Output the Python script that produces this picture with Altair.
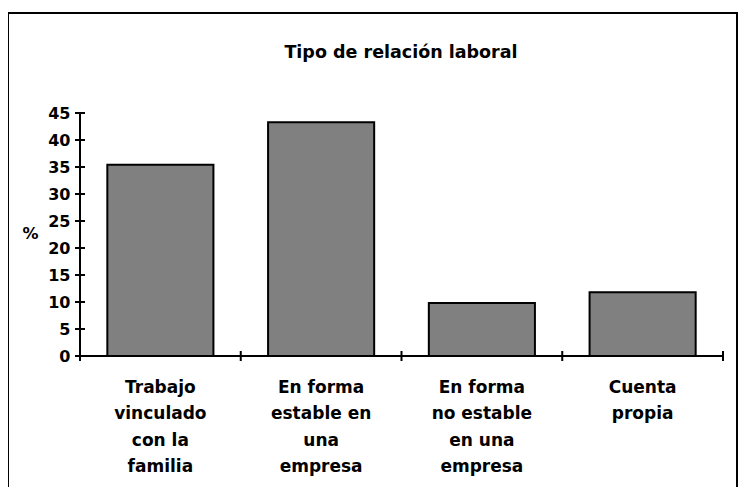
import altair as alt
import pandas as pd

categories = [
    "Trabajo|vinculado|con la|familia",
    "En forma|estable en|una|empresa",
    "En forma|no estable|en una|empresa",
    "Cuenta|propia",
]
values = [35.4, 43.3, 9.8, 11.8]
y_ticks = [0, 5, 10, 15, 20, 25, 30, 35, 40, 45]
chart_title = "Tipo de relación laboral"

df = pd.DataFrame({"cat": categories, "pct": values})
ticks_df = pd.DataFrame({"v": y_ticks})
one = pd.DataFrame({"t": [chart_title]})
FONT = "DejaVu Sans"
W, H = 643, 243
PAD_IN, PAD_OUT = 0.34, 0.17
STEP = W / (len(categories) - PAD_IN + 2 * PAD_OUT)
HALF_GAP = PAD_OUT * STEP

x_scale = alt.Scale(domain=categories, paddingInner=PAD_IN, paddingOuter=PAD_OUT)
y_scale = alt.Scale(domain=[0, 45], nice=False)

x_axis = alt.Axis(
    labelExpr="datum.value ? split(datum.value, '|') : ''", labelAngle=0,
    labelFont=FONT, labelFontSize=17, labelFontWeight="bold", labelColor="black",
    labelLineHeight=26.5, labelPadding=23, labelBaseline="top",
    ticks=False, domain=False, tickSize=5, title=None,
)
y_axis = alt.Axis(
    values=y_ticks, grid=False, labelFont=FONT, labelFontSize=16,
    labelFontWeight="bold", labelColor="black", labelPadding=10,
    ticks=False, domain=False, tickSize=5, title="%",
    titleAngle=0, titleFont=FONT, titleFontSize=16, titleFontWeight="bold",
    titleColor="black", titleX=-50, titleY=120, titleAlign="center",
    titleBaseline="middle",
)

bars = alt.Chart(df).mark_bar(
    color="#808080", stroke="black", strokeWidth=2
).encode(
    x=alt.X("cat:N", sort=categories, title=None, scale=x_scale, axis=x_axis),
    y=alt.Y("pct:Q", scale=y_scale, title="%", axis=y_axis),
)

# y axis line and crossing ticks
y_domain = alt.Chart(one).mark_rule(color="black", strokeWidth=2).encode(
    x=alt.value(0),
    y=alt.datum(0, scale=y_scale, axis=y_axis, title="%"),
    y2=alt.datum(45),
)
y_tick_marks = alt.Chart(ticks_df).mark_rule(color="black", strokeWidth=2).encode(
    y=alt.Y("v:Q", scale=y_scale, axis=y_axis, title="%"),
    x=alt.value(-5), x2=alt.value(5),
)
# x axis line and crossing ticks at category boundaries
x_domain = alt.Chart(one).mark_rule(color="black", strokeWidth=2).encode(
    y=alt.datum(0, scale=y_scale, axis=y_axis, title="%"),
    x=alt.value(0), x2=alt.value(W),
)
x_tick_left = alt.Chart(df).mark_rule(
    color="black", strokeWidth=2, xOffset=-HALF_GAP
).encode(
    x=alt.X("cat:N", sort=categories, title=None, scale=x_scale, axis=x_axis,
            bandPosition=0),
    y=alt.value(H - 5), y2=alt.value(H + 5),
)
x_tick_right = alt.Chart(df.tail(1)).mark_rule(
    color="black", strokeWidth=2, xOffset=HALF_GAP
).encode(
    x=alt.X("cat:N", sort=categories, title=None, scale=x_scale, axis=x_axis,
            bandPosition=1),
    y=alt.value(H - 5), y2=alt.value(H + 5),
)

frame = alt.Chart(one).mark_rect(
    fill=None, stroke="black", strokeWidth=2
).encode(
    x=alt.value(-72), x2=alt.value(657), y=alt.value(-100), y2=alt.value(420)
)

title = alt.Chart(one).mark_text(
    font=FONT, fontSize=17.5, fontWeight="bold", color="black",
    align="center", baseline="middle"
).encode(
    x=alt.value(321), y=alt.value(-60), text="t:N"
)

chart = alt.layer(
    bars, x_domain, y_domain, y_tick_marks, x_tick_left, x_tick_right, frame, title
).properties(
    width=W, height=H,
    autosize=alt.AutoSizeParams(type="none"),
    padding={"left": 72, "top": 105, "right": 23, "bottom": 131},
).configure(background="white").configure_view(stroke=None)

chart.save("out.html", embed_options={"renderer": "svg", "actions": False})
